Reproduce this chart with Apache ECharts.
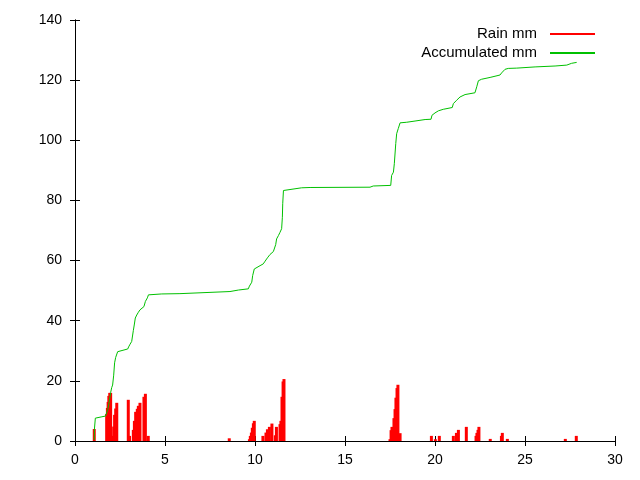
<!DOCTYPE html>
<html>
<head>
<meta charset="utf-8">
<script src="https://cdn.jsdelivr.net/npm/echarts@6/dist/echarts.min.js"></script>
<style>
html,body{margin:0;padding:0;background:#fff;}
#chart{width:640px;height:480px;}
</style>
</head>
<body>
<div id="chart"></div>
<script>
// Rain (impulses): [day, mm]
const rainX = [1.07, 1.76, 1.80, 1.84, 1.88, 1.93, 1.98, 2.10, 2.15, 2.20, 2.26, 2.32,
  2.96, 3.03, 3.24, 3.30, 3.37, 3.46, 3.52, 3.61, 3.83, 3.91, 4.07, 8.57,
  9.69, 9.74, 9.80, 9.85, 9.91, 9.96, 10.44, 10.61, 10.69, 10.80, 10.94, 11.13, 11.19,
  11.39, 11.44, 11.50, 11.56, 11.61,
  17.50, 17.56, 17.61, 17.72, 17.78, 17.83, 17.89, 17.94, 18.06,
  19.80, 20.02, 20.24, 21.02, 21.19, 21.30, 21.74, 22.28, 22.33, 22.39, 22.44,
  23.07, 23.69, 23.74, 24.02, 27.24, 27.85];
const rainMm = [4, 9, 11, 13, 15, 16, 16, 1.7, 4.8, 8.7, 10.8, 12.7,
  13.7, 1.7, 3.7, 6.7, 9.7, 10.7, 11.7, 12.7, 14.7, 15.7, 1.7, 0.9,
  0.6, 1.7, 2.8, 4.4, 5.9, 6.7, 1.7, 2.8, 3.9, 4.7, 5.8, 1.9, 4.7,
  5.6, 6.7, 14.7, 19.8, 20.6,
  0.6, 3.6, 4.7, 7.6, 10.6, 14.4, 17.6, 18.7, 2.6,
  1.7, 0.6, 1.7, 1.7, 2.7, 3.7, 4.7, 1.7, 2.7, 3.7, 4.7,
  0.7, 1.7, 2.7, 0.7, 0.7, 1.7];

// Accumulated rain: [day, mm]
const accX = [1.07, 1.08, 1.13, 1.45, 1.70, 1.76, 1.82, 1.87, 1.93, 1.98, 2.04, 2.09, 2.15, 2.20, 2.26, 2.37, 2.46,
  2.93, 2.98, 3.06, 3.15, 3.24, 3.30, 3.35, 3.43, 3.52, 3.61, 3.70, 3.83, 3.91, 4.02, 4.08, 4.82, 5.83,
  8.61, 9.08, 9.63, 9.69, 9.82, 9.87, 9.96, 10.06, 10.28, 10.46, 10.56, 10.69, 10.83, 11.02, 11.11, 11.15,
  11.20, 11.30, 11.39, 11.48, 11.52, 11.54, 11.58, 11.61, 12.59, 13.06, 16.39, 16.57, 17.54, 17.59, 17.69,
  17.74, 17.82, 17.87, 17.96, 18.06, 18.43, 18.89, 19.45, 19.78, 19.83, 20.00, 20.19, 20.46, 20.96, 21.02,
  21.20, 21.39, 21.67, 22.22, 22.32, 22.41, 22.59, 23.06, 23.61, 23.70, 23.89, 24.07, 24.54, 25.56, 26.67,
  27.32, 27.59, 27.87];
const accMm = [0.3, 4, 7.6, 8.0, 8.3, 8.9, 10.5, 12, 14.2, 16.1, 17.8, 18.6, 21.9, 26, 27.8, 29.7, 30,
  30.6, 31.3, 32.2, 33.1, 36.7, 38.9, 40.9, 41.9, 42.8, 43.6, 44.2, 44.7, 46.4, 47.6, 48.6, 48.9, 49.0,
  49.7, 50.2, 50.6, 51.5, 52.8, 55, 57.2, 57.8, 58.3, 58.9, 59.8, 60.9, 62, 63, 63.6, 65.3,
  67.2, 68.3, 69.4, 70.6, 74.4, 78.9, 83.3, 83.9, 84.2, 84.3, 84.4, 84.8, 85, 88.3, 89.4,
  92.2, 98.9, 102.2, 103.9, 105.8, 106, 106.4, 106.9, 107, 108.3, 109.1, 109.8, 110.3, 110.9, 112.2,
  113.3, 114.4, 115.2, 115.8, 117.8, 119.8, 120.3, 120.9, 121.7, 122.4, 123.6, 123.9, 124.0, 124.4, 124.7,
  125, 125.6, 125.9];

const seriesNames = ['Rain mm', 'Accumulated mm'];

const rainData = rainX.map((x, i) => [x, rainMm[i]]);
const accData = accX.map((x, i) => [x, accMm[i]]);

const FONT = 'Liberation Sans';
const chart = echarts.init(document.getElementById('chart'), null, {renderer: 'canvas'});
const axisCommon = {
  axisLine: {show: true, lineStyle: {color: '#000', width: 1}},
  axisTick: {show: true, inside: true, length: 5, lineStyle: {color: '#000'}},
  splitLine: {show: false}
};
chart.setOption({
  animation: false,
  backgroundColor: '#fff',
  textStyle: {fontFamily: FONT},
  grid: {left: 75, right: 25, top: 20, bottom: 39},
  legend: {
    orient: 'vertical',
    right: 40,
    top: 21,
    align: 'right',
    itemWidth: 45,
    itemHeight: 2,
    itemGap: 3,
    icon: 'rect',
    textStyle: {fontFamily: FONT, fontSize: 15, color: '#000', lineHeight: 16, padding: [0, 8, 0, 0]},
    data: [
      {name: seriesNames[0], itemStyle: {color: '#ff0000'}},
      {name: seriesNames[1], itemStyle: {color: '#00c000'}}
    ]
  },
  xAxis: [
    Object.assign({type: 'value', min: 0, max: 30, interval: 5, position: 'bottom',
      axisLabel: {color: '#000', fontSize: 14, fontFamily: FONT, margin: 12}}, axisCommon),
    Object.assign({type: 'value', min: 0, max: 30, interval: 5, position: 'top',
      axisLabel: {show: false}}, axisCommon)
  ],
  yAxis: [
    Object.assign({type: 'value', min: 0, max: 140, interval: 20, position: 'left',
      axisLabel: {color: '#000', fontSize: 14, fontFamily: FONT, margin: 13}}, axisCommon),
    Object.assign({type: 'value', min: 0, max: 140, interval: 20, position: 'right',
      axisLabel: {show: false}}, axisCommon)
  ],
  series: [
    {
      name: seriesNames[0],
      type: 'bar',
      xAxisIndex: 0, yAxisIndex: 0,
      barWidth: 3,
      barGap: '-100%',
      itemStyle: {color: '#ff0000'},
      data: rainData
    },
    {
      name: seriesNames[1],
      type: 'line',
      xAxisIndex: 0, yAxisIndex: 0,
      showSymbol: false,
      symbol: 'none',
      lineStyle: {color: '#00c000', width: 1},
      itemStyle: {color: '#00c000'},
      data: accData
    }
  ]
});
</script>
</body>
</html>
